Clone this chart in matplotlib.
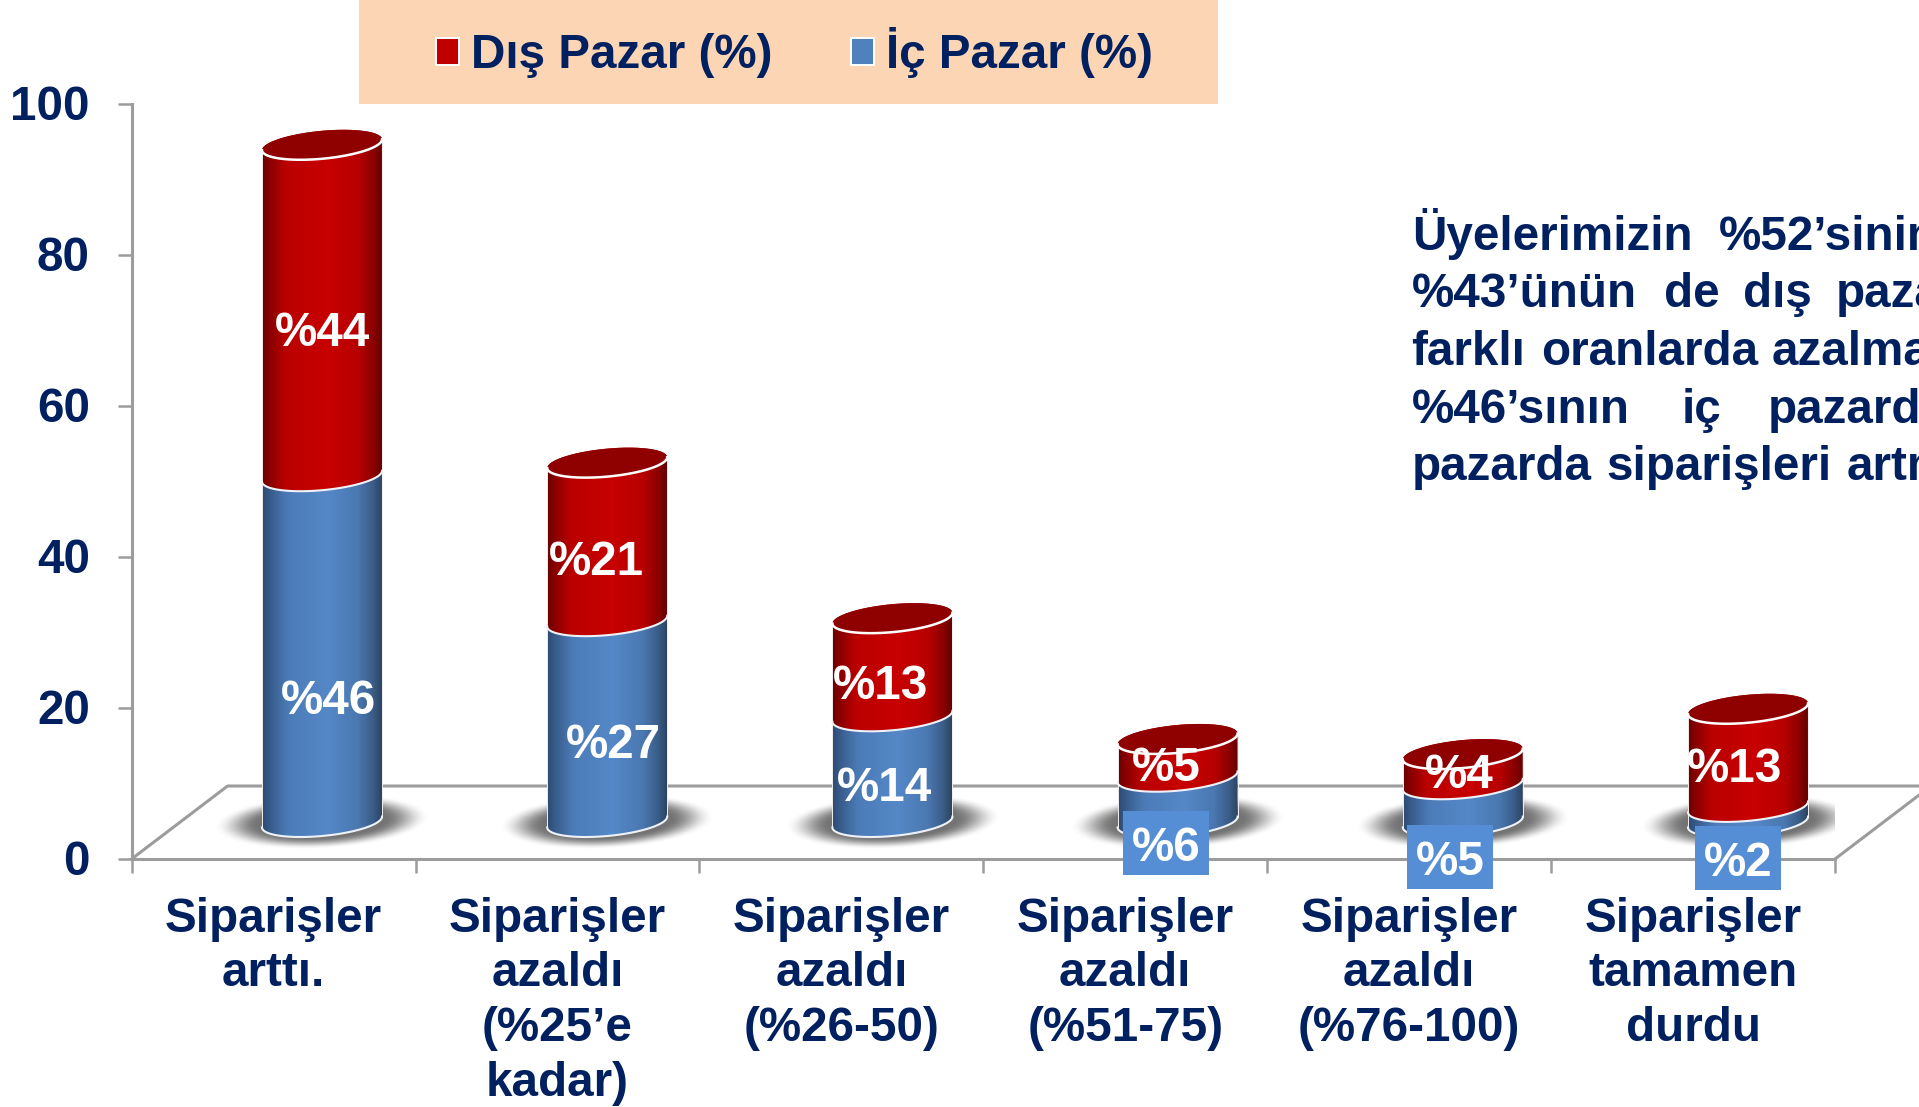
import numpy as np
import matplotlib
matplotlib.use("Agg")
import matplotlib.pyplot as plt
from matplotlib.colors import LinearSegmentedColormap
from matplotlib.patches import Patch, Rectangle
from matplotlib.path import Path
from matplotlib.transforms import Affine2D, ScaledTranslation

# ---------- data ----------
categories = ["Siparişler\narttı.", "Siparişler\nazaldı\n(%25’e\nkadar)", "Siparişler\nazaldı\n(%26-50)",
              "Siparişler\nazaldı\n(%51-75)", "Siparişler\nazaldı\n(%76-100)", "Siparişler\ntamamen\ndurdu"]
ic_pazar = [45.8, 26.6, 14.0, 6.0, 5.0, 2.0]
dis_pazar = [43.9, 21.0, 13.0, 5.0, 4.0, 13.0]
y_ticks = [0, 20, 40, 60, 80, 100]
series_names = ["Dış Pazar (%)", "İç Pazar (%)"]

# ---------- label placement (figure pixels) ----------
ic_label_xy = [(329, 697), (613, 741), (885, 784), (1166, 844), (1450, 858), (1738, 859)]
dis_label_xy = [(322, 329), (596, 558), (881, 682), (1166, 764), (1459, 771), (1735, 765)]
boxed = [False, False, False, True, True, True]
note_lines = [
    (250, [(1412, "Üyelerimizin"), (1719, "%52’sinin")]),
    (307, [(1412, "%43’ünün"), (1664, "de"), (1743, "dış"), (1835.5, "pazarda")]),
    (365, [(1411, "farklı"), (1541, "oranlarda"), (1772, "azalma")]),
    (423, [(1412, "%46’sının"), (1681.5, "iç"), (1768, "pazarda")]),
    (480, [(1412, "pazarda"), (1606, "siparişleri"), (1847, "artmış")]),
]

# ---------- style ----------
W, H = 1919, 1107
NAVY = "#002060"
GRAY = "#9c9c9c"
FS = 34.3
FONT = "Liberation Sans"
plt.rcParams["font.family"] = [FONT, "DejaVu Sans"]
plt.rcParams["font.weight"] = "bold"

red_cmap = LinearSegmentedColormap.from_list("r", [(0, "#6a0000"), (.07, "#8c0000"), (.2, "#bb0000"), (.55, "#c80000"),
                                                   (.8, "#b80000"), (.93, "#8a0000"), (1, "#660000")])
blue_cmap = LinearSegmentedColormap.from_list("b", [(0, "#2e4a70"), (.08, "#3a5f90"), (.22, "#4c7cb8"), (.55, "#5588c8"),
                                                    (.8, "#4a78b0"), (.93, "#3a5c88"), (1, "#2c4460")])
TOP_RED = "#8f0000"

fig = plt.figure(figsize=(W / 100, H / 100), dpi=100, facecolor="white")
L, R, B, T = 131.6, 1835, 859, 104
ax = fig.add_axes([L / W, 1 - B / H, (R - L) / W, (B - T) / H])
px = Affine2D().scale(1, -1).translate(0, H)

# projection constants, in axis units
PX_X = (R - L) / 6
PX_Y = (B - T) / 100
depth_x, depth_y = 96 / PX_X, 73 / PX_Y
mid_x0, spacing = 190.4 / PX_X, 285.2 / PX_X
base_y = (859 - 822) / PX_Y
a = 60 / PX_X
b = 14 / PX_Y
s = 5.4 / PX_Y


def arc(cx, cy, t0, t1, n=80, ka=a, kb=b, ks=s):
    t = np.linspace(t0, t1, n)
    return np.column_stack([cx + ka * np.cos(t), cy + kb * np.sin(t) + ks * np.cos(t)])


def segment(cx, y0, y1, cmap, z):
    lower = arc(cx, y0, np.pi, 2 * np.pi)
    upper = arc(cx, y1, 2 * np.pi, 3 * np.pi)
    pts = np.vstack([lower, upper, lower[:1]])
    im = ax.imshow(np.linspace(0, 1, 256)[None, :], cmap=cmap, vmin=0, vmax=1, aspect="auto",
                   extent=[cx - a, cx + a, y0 - 3, y1 + 3], zorder=z, interpolation="bilinear")
    im.set_clip_path(Path(pts), transform=ax.transData)
    ax.plot(lower[:, 0], lower[:, 1], color="#eef2f8", lw=1.5, zorder=z + .1, clip_on=False)
    for side in (0, -1):
        ax.plot([lower[side, 0]] * 2, [lower[side, 1], y1 + (s if side else -s)], color="#f0f0f0", lw=.7,
                zorder=z + .1)


def shadow(cx, cy):
    sa, sb, ss = 108 / PX_X, 27 / PX_Y, 5 / PX_Y
    xs = np.linspace(cx - 1.1 * sa, cx + 1.1 * sa, 220)
    ys = np.linspace(cy - 1.3 * sb - ss, cy + 1.3 * sb + ss, 110)
    X, Y = np.meshgrid(xs, ys)
    u = (X - cx) / sa
    v = (Y - cy - ss * u) / sb
    r = np.sqrt(u ** 2 + v ** 2)
    q = np.clip((1 - r) / .42, 0, 1)
    alpha = .95 * q * q * (3 - 2 * q)
    rgba = np.zeros(X.shape + (4,))
    rgba[..., :3] = .42
    rgba[..., 3] = alpha
    ax.imshow(rgba, origin="lower", aspect="auto", extent=[xs[0], xs[-1], ys[0], ys[-1]], zorder=1,
              interpolation="bilinear")


# floor
fl = dict(color=GRAY, lw=2.2, clip_on=False, zorder=.9)
ax.plot([0, depth_x, 6 + depth_x], [0, depth_y, depth_y], **fl)
ax.plot([6, 6 + depth_x], [0, depth_y], **fl)

for i, (ic, dis) in enumerate(zip(ic_pazar, dis_pazar)):
    cx = mid_x0 + spacing * i
    shadow(cx, base_y)
    y1, y2 = base_y + ic, base_y + ic + dis
    segment(cx, base_y, y1, blue_cmap, 3 + i * .01)
    segment(cx, y1, y2, red_cmap, 3.2 + i * .01)
    rim = arc(cx, y2, 0, 2 * np.pi)
    ax.fill(rim[:, 0], rim[:, 1], color=TOP_RED, zorder=3.4, lw=0)
    front = arc(cx, y2, np.pi, 2 * np.pi)
    ax.plot(front[:, 0], front[:, 1], color="white", lw=1.8, zorder=3.5)

ax.set_xlim(0, 6)
ax.set_ylim(0, 100)
ax.patch.set_alpha(0)
for side in ("top", "right"):
    ax.spines[side].set_visible(False)
for side in ("left", "bottom"):
    ax.spines[side].set_color(GRAY)
    ax.spines[side].set_linewidth(2.2)
ax.set_yticks(y_ticks)
ax.set_yticklabels([str(v) for v in y_ticks], fontsize=FS, color=NAVY, fontweight="bold", va="center_baseline")
ax.tick_params(axis="y", length=10, width=1.8, color=GRAY, pad=20)
for t in ax.get_yticklabels():
    t.set_transform(t.get_transform() + ScaledTranslation(0, 1.2 / 100, fig.dpi_scale_trans))
ax.set_xticks(range(7))
ax.set_xticklabels([])
ax.tick_params(axis="x", which="major", length=10, width=1.8, color=GRAY)
ax.set_xticks(np.arange(6) + .5, minor=True)
ax.set_xticklabels(categories, minor=True, fontsize=FS, color=NAVY, fontweight="bold", linespacing=1.285, va="top")
ax.tick_params(axis="x", which="minor", length=0, pad=27)

# value labels
lab = dict(transform=px, color="white", fontsize=FS, fontweight="bold", ha="center", va="baseline", zorder=6,
           clip_on=False)
for v, (x, y), box in zip(ic_pazar, ic_label_xy, boxed):
    if box:
        ax.add_patch(Rectangle((x - 43, y - 33), 86, 64, transform=px, facecolor="#558ed5", edgecolor="none",
                               zorder=5, clip_on=False))
    ax.text(x, y + 17, f"%{v:.0f}", **lab)
for v, (x, y) in zip(dis_pazar, dis_label_xy):
    ax.text(x, y + 17, f"%{v:.0f}", **lab)

# legend
ax.add_patch(Rectangle((359, 0), 859, 104, transform=px, facecolor="#fcd5b5", edgecolor="none", zorder=4,
                       clip_on=False))
handles = [Patch(facecolor="#c00000", edgecolor="white", lw=1.4), Patch(facecolor="#4f81bd", edgecolor="white", lw=1.4)]
leg = ax.legend(handles, series_names, ncols=2, frameon=False, loc="upper left",
                bbox_to_anchor=(436 / W, 1 - 27.5 / H), bbox_transform=fig.transFigure, borderaxespad=0, borderpad=0,
                labelcolor=NAVY, handlelength=.49, handleheight=.49, handletextpad=.25,
                columnspacing=1.64, prop=dict(family=FONT, weight="bold", size=FS))
leg.set_zorder(7)

# note
for y, words in note_lines:
    for x, w in words:
        fig.text(x / W, 1 - y / H, w, fontsize=FS, fontweight="bold", color=NAVY, ha="left", va="baseline")

fig.savefig("out.png", dpi=100, facecolor="white")
